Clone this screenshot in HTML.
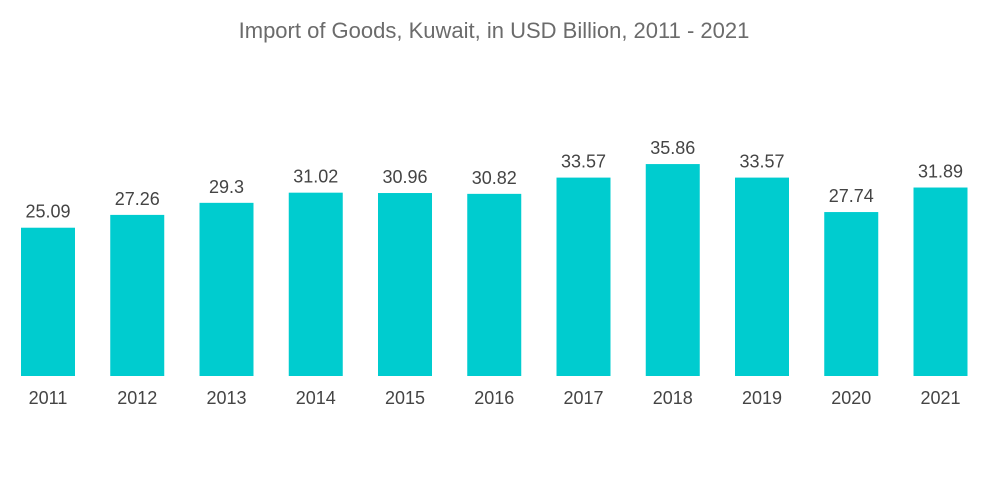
<!DOCTYPE html>
<html><head><meta charset="utf-8"><style>
body{margin:0;background:#fff;}
svg{display:block;font-family:"Liberation Sans",sans-serif;}
</style></head><body>
<svg width="1000" height="504">
<text x="494" y="38" text-anchor="middle" font-size="22" fill="#6b6b6b">Import of Goods, Kuwait, in USD Billion, 2011 - 2021</text>
<g id="bars"></g>
</svg>
<script>
const categories=["2011","2012","2013","2014","2015","2016","2017","2018","2019","2020","2021"];
const values=[25.09,27.26,29.3,31.02,30.96,30.82,33.57,35.86,33.57,27.74,31.89];
const labels=["25.09","27.26","29.3","31.02","30.96","30.82","33.57","35.86","33.57","27.74","31.89"];
const base=376, scale=5.91, x0=21, pitch=89.25, bw=54;
const y=v=>base-v*scale;
const xp=i=>x0+i*pitch;
const g=document.getElementById('bars');
const ns="http://www.w3.org/2000/svg";
categories.forEach((c,i)=>{
  const r=document.createElementNS(ns,'rect');
  r.setAttribute('x',xp(i));r.setAttribute('y',y(values[i]));
  r.setAttribute('width',bw);r.setAttribute('height',base-y(values[i]));
  r.setAttribute('fill','#00cccf');
  
  
  g.appendChild(r);
  const t=document.createElementNS(ns,'text');
  t.setAttribute('x',xp(i)+bw/2);t.setAttribute('y',y(values[i])-10);
  t.setAttribute('text-anchor','middle');t.setAttribute('font-size','18');t.setAttribute('fill','#444');
  t.textContent=labels[i];
  
  
  g.appendChild(t);
  const a=document.createElementNS(ns,'text');
  a.setAttribute('x',xp(i)+bw/2);a.setAttribute('y',404);
  a.setAttribute('text-anchor','middle');a.setAttribute('font-size','18');a.setAttribute('fill','#444');
  a.textContent=c;
  
  
  g.appendChild(a);
});
</script>
</body></html>
